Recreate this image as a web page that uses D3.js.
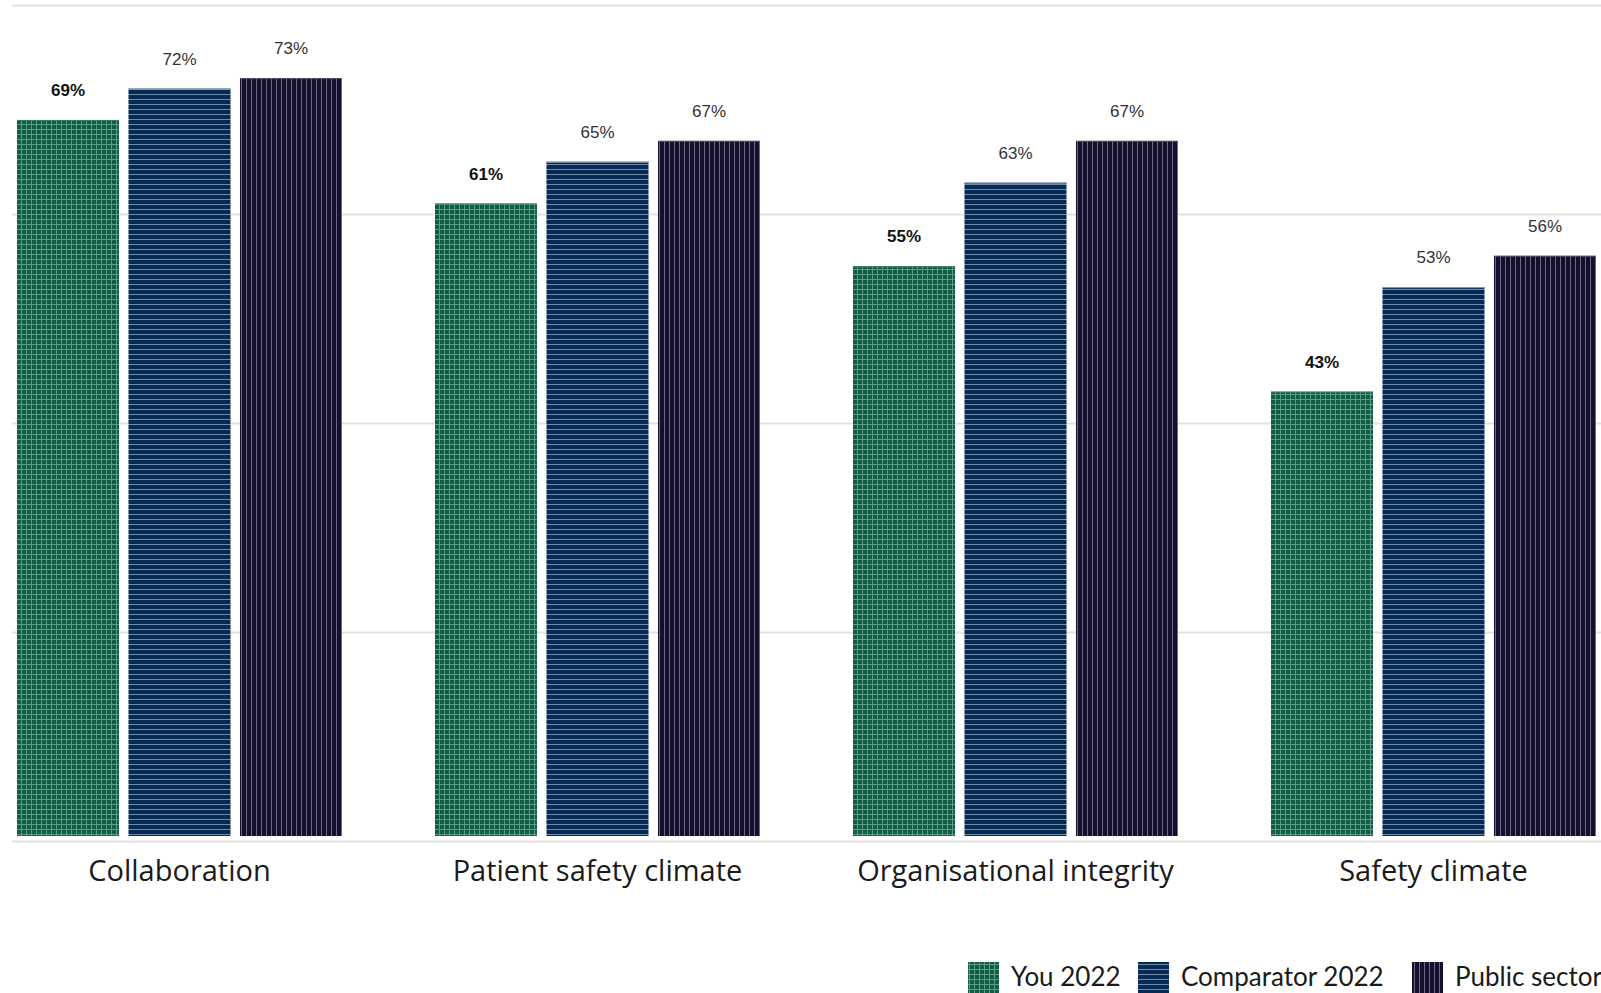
<!DOCTYPE html>
<html>
<head>
<meta charset="utf-8">
<script src="https://cdn.jsdelivr.net/npm/d3@7"></script>
<style>
  html, body { margin: 0; padding: 0; background: #ffffff; overflow: hidden; }
  svg { display: block; }
</style>
</head>
<body>
<div id="chart"></div>
<script>
// Survey factor scores (% agree) by comparison group
const categories = ["Collaboration", "Patient safety climate", "Organisational integrity", "Safety climate"];
const seriesNames = ["You 2022", "Comparator 2022", "Public sector 2022"];
const youValues = [69, 61, 55, 43];
const comparatorValues = [72, 65, 63, 53];
const publicSectorValues = [73, 67, 67, 56];
const gridTicks = [0, 20, 40, 60, 80];

const W = 1601, H = 993;
const seriesValues = [youValues, comparatorValues, publicSectorValues];

const svg = d3.select("#chart").append("svg")
  .attr("width", W).attr("height", H);

// Hatch fills for each series
const defs = svg.append("defs");
const pitch = 5;
const fills = [
  { id: "pat-you", base: "#0f5d45", line: "#5e9a84", h: true, v: true },
  { id: "pat-comp", base: "#072a52", line: "#6e8bad", h: true, v: false },
  { id: "pat-pub", base: "#13102b", line: "#6c6889", h: false, v: true }
];
fills.forEach(f => {
  const p = defs.append("pattern")
    .attr("id", f.id)
    .attr("patternUnits", "userSpaceOnUse")
    .attr("width", pitch).attr("height", pitch);
  p.append("rect").attr("width", pitch).attr("height", pitch).attr("fill", f.base);
  if (f.h) p.append("rect").attr("x", 0).attr("y", pitch - 1).attr("width", pitch).attr("height", 1).attr("fill", f.line);
  if (f.v) p.append("rect").attr("x", pitch - 1).attr("y", 0).attr("width", 1).attr("height", pitch).attr("fill", f.line);
});
const edgeColors = ["#3f7f68", "#8ea3bb", "#55516f"];

// Scales
const y = d3.scaleLinear().domain([0, 80]).range([841, 5]);
const x0 = d3.scaleBand().domain(categories).range([17, 1596]).paddingInner(0.2225).paddingOuter(0);
const x1 = d3.scaleBand().domain(seriesNames).range([0, x0.bandwidth()]).paddingInner(0.085).paddingOuter(0);

// Horizontal gridlines
const yAxis = d3.axisLeft(y).tickValues(gridTicks).tickSize(-(W - 12)).tickFormat("");
const gAxis = svg.append("g").attr("transform", "translate(12,0)").call(yAxis);
gAxis.select(".domain").remove();
gAxis.selectAll(".tick line").attr("stroke", "#e2e2e2").attr("stroke-width", 2);

// Bars sit just above the baseline rule
const barBottom = y(0) - 5;

const groups = svg.append("g").selectAll("g")
  .data(categories)
  .join("g")
  .attr("transform", d => `translate(${x0(d)},0)`);

groups.each(function (cat, ci) {
  const g = d3.select(this);
  const rows = seriesNames.map((s, si) => ({ s, si, v: seriesValues[si][ci] }));

  g.selectAll("rect.bar")
    .data(rows)
    .join("rect")
    .attr("class", "bar")
    .attr("x", d => x1(d.s))
    .attr("y", d => y(d.v))
    .attr("width", x1.bandwidth())
    .attr("height", d => barBottom - y(d.v))
    .attr("fill", d => `url(#${fills[d.si].id})`);

  // thin lighter top edge
  g.selectAll("line.edge")
    .data(rows)
    .join("line")
    .attr("class", "edge")
    .attr("x1", d => x1(d.s))
    .attr("x2", d => x1(d.s) + x1.bandwidth())
    .attr("y1", d => y(d.v) + 0.5)
    .attr("y2", d => y(d.v) + 0.5)
    .attr("stroke", d => edgeColors[d.si])
    .attr("stroke-width", 1);

  g.selectAll("text.val")
    .data(rows)
    .join("text")
    .attr("class", "val")
    .attr("x", d => x1(d.s) + x1.bandwidth() / 2)
    .attr("y", d => y(d.v) - 24)
    .attr("text-anchor", "middle")
    .attr("font-family", "'Liberation Sans', Arial, sans-serif")
    .attr("font-size", 17)
    .attr("font-weight", d => d.si === 0 ? "bold" : "normal")
    .attr("fill", d => d.si === 0 ? "#111" : "#333")
    .text(d => d.v + "%");

  g.append("text")
    .attr("x", x0.bandwidth() / 2)
    .attr("y", 881)
    .attr("text-anchor", "middle")
    .attr("font-family", "'Open Sans', sans-serif")
    .attr("font-size", 29)
    .attr("fill", "#1a1a1a")
    .text(cat);
});

// Legend (runs past the right edge of the view)
const legendX = [968, 1138, 1412];
const legend = svg.append("g");
seriesNames.forEach((s, i) => {
  legend.append("rect")
    .attr("x", legendX[i]).attr("y", 962)
    .attr("width", 31).attr("height", 31)
    .attr("fill", `url(#${fills[i].id})`);
  legend.append("text")
    .attr("x", legendX[i] + 43).attr("y", 986)
    .attr("font-family", "Lato, sans-serif")
    .attr("font-size", 26)
    .attr("fill", "#1a1a1a")
    .text(s);
});
</script>
</body>
</html>
